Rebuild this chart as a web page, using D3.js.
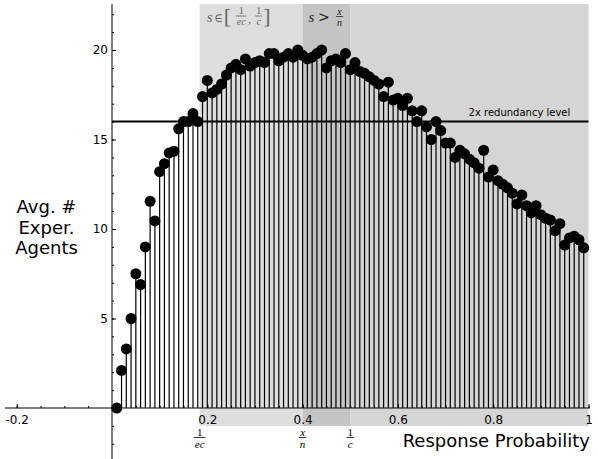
<!DOCTYPE html>
<html lang="en">
<head>
<meta charset="UTF-8">
<title>Avg. # Exper. Agents vs Response Probability</title>
<script src="https://cdn.jsdelivr.net/npm/d3@7"></script>
<style>
  body { margin: 0; background: #fff; }
  svg { font-family: "DejaVu Sans", sans-serif; display: block; }
  .stem { stroke: #000; stroke-width: 1.2px; }
  .dot { fill: #000; }
  .axis path { display: none; }
  .axis line { stroke: #000; stroke-width: 1px; }
  .axis text { font-size: 12px; fill: #000; font-family: "DejaVu Sans", sans-serif; }
  .math { font-family: "Liberation Serif", serif; font-style: italic; }
</style>
</head>
<body>
<div class="wrap"></div>
<script>
// response probability of each run
var probs = [0.01,0.02,0.03,0.04,0.05,0.06,0.07,0.08,0.09,0.10,
             0.11,0.12,0.13,0.14,0.15,0.16,0.17,0.18,0.19,0.20,
             0.21,0.22,0.23,0.24,0.25,0.26,0.27,0.28,0.29,0.30,
             0.31,0.32,0.33,0.34,0.35,0.36,0.37,0.38,0.39,0.40,
             0.41,0.42,0.43,0.44,0.45,0.46,0.47,0.48,0.49,0.50,
             0.51,0.52,0.53,0.54,0.55,0.56,0.57,0.58,0.59,0.60,
             0.61,0.62,0.63,0.64,0.65,0.66,0.67,0.68,0.69,0.70,
             0.71,0.72,0.73,0.74,0.75,0.76,0.77,0.78,0.79,0.80,
             0.81,0.82,0.83,0.84,0.85,0.86,0.87,0.88,0.89,0.90,
             0.91,0.92,0.93,0.94,0.95,0.96,0.97,0.98,0.99];
// average number of experienced agents
var avgAgents = [0,2.1,3.3,5.0,7.5,6.9,9.0,11.55,10.45,13.2,
                 13.65,14.25,14.35,15.6,16.0,16.0,16.45,16.0,17.4,18.3,
                 17.6,17.8,18.1,18.6,19.0,19.2,18.9,19.5,19.1,19.3,
                 19.4,19.3,19.8,19.8,19.4,19.6,19.8,19.6,20.0,19.7,
                 19.5,19.6,19.8,20.0,19.0,19.4,19.5,19.3,19.8,18.9,
                 19.3,18.8,18.7,18.5,18.3,18.1,17.4,18.2,17.2,17.3,
                 16.9,17.3,16.6,16.0,16.6,15.7,15.0,16.0,15.5,14.8,
                 14.8,14.0,14.4,14.2,13.9,13.7,13.4,14.4,12.9,13.3,
                 12.7,12.5,12.3,12.0,11.4,11.9,11.3,10.9,11.3,10.8,
                 10.6,10.5,9.9,10.3,9.1,9.5,9.6,9.4,8.95];

var xMajor = [-0.2, 0.2, 0.4, 0.6, 0.8, 1];
var yMajor = [5, 10, 15, 20];
var redundancyLevel = 16;
var cParam = 2;            // 1/c
var xOverN = 0.4;          // x/n
var lowBound = 1 / (Math.E * cParam);   // 1/ec

var width = 598, height = 459;

// scales
var x = d3.scaleLinear().domain([0, 1]).range([112, 588.5]);
var y = d3.scaleLinear().domain([0, 20]).range([408, 50]);

var xMin = -0.2246, xMax = 1.003;
var yMin = y.invert(height), yMax = y.invert(4);

var svg = d3.select(".wrap").append("svg")
    .attr("width", width)
    .attr("height", height);

// shaded regions
var regions = [
  {from: lowBound, to: xOverN, fill: "#dedede"},
  {from: xOverN, to: 1 / cParam, fill: "#c4c4c4"},
  {from: 1 / cParam, to: 1, fill: "#d5d5d5"}
];
svg.selectAll("rect.region").data(regions).enter().append("rect")
    .attr("class", "region")
    .attr("x", function(d) { return x(d.from); })
    .attr("width", function(d) { return x(d.to) - x(d.from); })
    .attr("y", y(yMax))
    .attr("height", y(-1) - y(yMax))
    .attr("fill", function(d) { return d.fill; });

// stems
var data = probs.map(function(p, i) { return {p: p, v: avgAgents[i]}; });
svg.selectAll("line.stem").data(data).enter().append("line")
    .attr("class", "stem")
    .attr("x1", function(d) { return x(d.p); })
    .attr("x2", function(d) { return x(d.p); })
    .attr("y1", y(0))
    .attr("y2", function(d) { return y(d.v); });

// axes lines
svg.append("line")
    .attr("x1", x(xMin)).attr("x2", x(xMax))
    .attr("y1", y(0)).attr("y2", y(0))
    .attr("stroke", "#000");
svg.append("line")
    .attr("x1", x(0)).attr("x2", x(0))
    .attr("y1", y(yMax)).attr("y2", y(yMin))
    .attr("stroke", "#000");

// x ticks
var xMinor = d3.range(-4, 21).map(function(i) { return i * 0.05; });
svg.append("g").attr("class", "axis")
    .attr("transform", "translate(0," + y(0) + ")")
    .call(d3.axisBottom(x).tickValues(xMinor).tickSizeInner(-2).tickSizeOuter(0).tickFormat(""));
svg.append("g").attr("class", "axis")
    .attr("transform", "translate(0," + y(0) + ")")
    .call(d3.axisBottom(x).tickValues(xMajor).tickSizeInner(-4).tickSizeOuter(0)
      .tickPadding(7).tickFormat(function(d) { return String(d); }));

// y ticks
var yMinor = d3.range(-2, 23);
svg.append("g").attr("class", "axis")
    .attr("transform", "translate(" + x(0) + ",0)")
    .call(d3.axisLeft(y).tickValues(yMinor).tickSizeInner(-2).tickSizeOuter(0).tickFormat(""));
svg.append("g").attr("class", "axis")
    .attr("transform", "translate(" + x(0) + ",0)")
    .call(d3.axisLeft(y).tickValues(yMajor).tickSizeInner(-4).tickSizeOuter(0)
      .tickPadding(4).tickFormat(function(d) { return String(d); }));

// redundancy level line
svg.append("line")
    .attr("x1", x(0)).attr("x2", x(1))
    .attr("y1", y(redundancyLevel)).attr("y2", y(redundancyLevel))
    .attr("stroke", "#000")
    .attr("stroke-width", 2);
svg.append("text")
    .attr("x", x(0.855))
    .attr("y", y(redundancyLevel) - 6)
    .attr("text-anchor", "middle")
    .attr("font-size", 10)
    .text("2x redundancy level");

// dots
svg.selectAll("circle.dot").data(data).enter().append("circle")
    .attr("class", "dot")
    .attr("r", 5.5)
    .attr("cx", function(d) { return x(d.p); })
    .attr("cy", function(d) { return y(d.v); });

// fraction helper: numerator and denominator as separate texts around a bar
function frac(g, cx, barY, num, den, size, color, numItalic) {
  var f = g.append("g").attr("fill", color);
  var n = f.append("text").attr("class", "math")
      .attr("x", cx).attr("y", barY - 2)
      .attr("text-anchor", "middle").attr("font-size", size)
      .style("font-style", numItalic ? "italic" : "normal")
      .text(num);
  var dn = f.append("text").attr("class", "math")
      .attr("x", cx).attr("y", barY + size * 0.5 + 2)
      .attr("dominant-baseline", "middle")
      .attr("text-anchor", "middle").attr("font-size", size)
      .text(den);
  var w = Math.max(n.node().getComputedTextLength(), dn.node().getComputedTextLength()) + 2;
  f.append("line")
      .attr("x1", cx - w / 2).attr("x2", cx + w / 2)
      .attr("y1", barY).attr("y2", barY)
      .attr("stroke", color).attr("stroke-width", 0.8);
}

// labels under the x axis
var under = svg.append("g");
frac(under, x(lowBound), 437.5, "1", "ec", 11, "#000", false);
frac(under, x(xOverN), 437.5, "x", "n", 11, "#000", true);
frac(under, x(1 / cParam), 437.5, "1", "c", 11, "#000", false);

// labels in the shaded regions
var top1 = svg.append("g").attr("fill", "#666");
var x0 = x(lowBound);
top1.append("text").attr("class", "math").attr("x", x0 + 7).attr("y", 22)
    .attr("font-size", 15).text("s");
top1.append("text").attr("x", x0 + 14.5).attr("y", 22)
    .attr("font-size", 12).attr("font-family", "DejaVu Serif").text("\u2208");
top1.append("text").attr("x", x0 + 24).attr("y", 22.5)
    .attr("font-size", 22).attr("font-family", "Liberation Serif").text("[");
frac(top1, x0 + 41.5, 16, "1", "ec", 10, "#666", false);
top1.append("text").attr("class", "math").attr("x", x0 + 48.5).attr("y", 23)
    .attr("font-size", 11).text(",");
frac(top1, x0 + 59, 16, "1", "c", 10, "#666", false);
top1.append("text").attr("x", x0 + 63.5).attr("y", 22.5)
    .attr("font-size", 22).attr("font-family", "Liberation Serif").text("]");

var top2 = svg.append("g").attr("fill", "#222");
var x1 = x(xOverN);
top2.append("text").attr("class", "math").attr("x", x1 + 6).attr("y", 22)
    .attr("font-size", 15).text("s");
top2.append("text").attr("x", x1 + 15.5).attr("y", 22)
    .attr("font-size", 14).attr("font-family", "DejaVu Serif").text(">");
frac(top2, x1 + 37, 16.5, "x", "n", 10, "#222", true);

// axis titles
var ylab = svg.append("text")
    .attr("text-anchor", "middle")
    .attr("font-size", 18);
[["Avg. #", 213], ["Exper.", 233.5], ["Agents", 254]].forEach(function(l) {
  ylab.append("tspan").attr("x", 46.5).attr("y", l[1]).text(l[0]);
});

svg.append("text")
    .attr("x", 590)
    .attr("y", 447)
    .attr("text-anchor", "end")
    .attr("font-size", 18)
    .text("Response Probability");
</script>
</body>
</html>
